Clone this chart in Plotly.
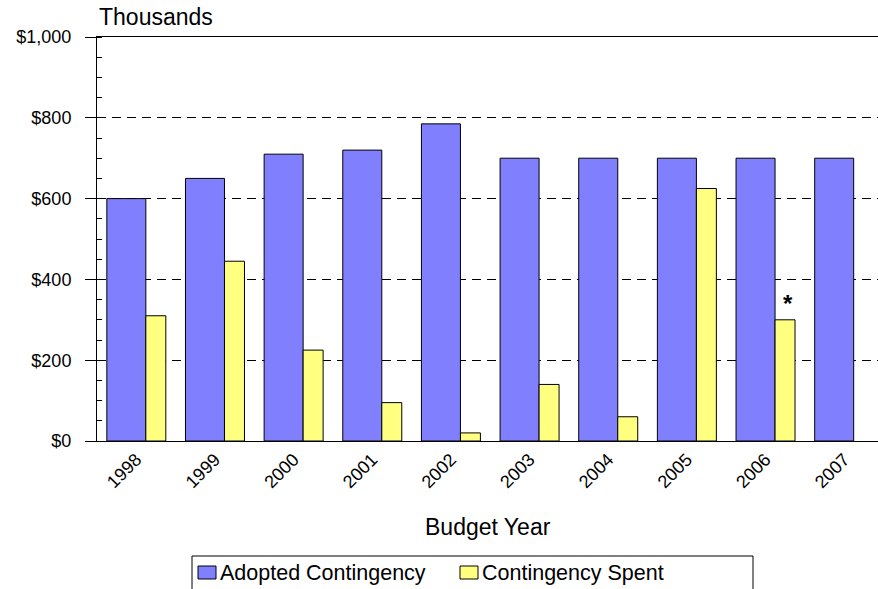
import plotly.graph_objects as go

# Budget years and contingency amounts (thousands of dollars)
years = ["1998", "1999", "2000", "2001", "2002", "2003", "2004", "2005", "2006", "2007"]
adopted = [600, 650, 710, 720, 785, 700, 700, 700, 700, 700]
spent = [310, 445, 225, 95, 20, 140, 60, 625, 300, None]

y_ticks = [0, 200, 400, 600, 800, 1000]
y_labels = ["$0", "$200", "$400", "$600", "$800", "$1,000"]

series_names = ["Adopted Contingency", "Contingency Spent"]

FONT = "Liberation Sans, Arial, sans-serif"
BLUE = "#8080FF"
YELLOW = "#FFFF80"
colors = [BLUE, YELLOW]

# plot area in pixels (for placing items in the bottom margin)
L, R, T, B = 97, 878, 37, 441
W, H = R - L, B - T


def px(x):
    return (x - L) / W


def py(y):
    return (B - y) / H


fig = go.Figure()
fig.add_trace(go.Bar(
    x=years, y=adopted, name=series_names[0],
    marker=dict(color=BLUE, line=dict(color="#000000", width=1)),
    offset=-0.375, width=0.496,
))
fig.add_trace(go.Bar(
    x=years, y=spent, name=series_names[1],
    marker=dict(color=YELLOW, line=dict(color="#000000", width=1)),
    offset=0.121, width=0.254,
))

# asterisk flagging the 2006 spent amount
flag_idx = years.index("2006")
fig.add_annotation(
    xref="x", yref="y", x=flag_idx, y=spent[flag_idx], text="<b>*</b>", showarrow=False,
    xanchor="center", yanchor="bottom", xshift=22, yshift=1,
    font=dict(family=FONT, size=24, color="#000000"),
)

fig.add_annotation(
    xref="paper", yref="paper", x=0, y=py(17), xanchor="left", yanchor="middle",
    text="Thousands", showarrow=False, font=dict(family=FONT, size=23, color="#000000"),
)

fig.add_annotation(
    xref="paper", yref="paper", x=0.5, y=py(527), xanchor="center", yanchor="middle",
    text="Budget Year", showarrow=False, font=dict(family=FONT, size=23, color="#000000"),
)

# legend: frame, colour keys and labels
fig.add_shape(
    type="rect", xref="paper", yref="paper",
    x0=px(192), x1=px(753), y0=py(620), y1=py(556),
    line=dict(color="#000000", width=1), fillcolor="rgba(0,0,0,0)",
)
key_left = [198, 460]
for name, color, kx in zip(series_names, colors, key_left):
    fig.add_shape(
        type="rect", xref="paper", yref="paper",
        x0=px(kx), x1=px(kx + 18), y0=py(579), y1=py(566),
        line=dict(color="#000000", width=1), fillcolor=color,
    )
    fig.add_annotation(
        xref="paper", yref="paper", x=px(kx + 21), y=py(573),
        xanchor="left", yanchor="middle", text=name, showarrow=False,
        borderpad=0, font=dict(family=FONT, size=21.5, color="#000000"),
    )

fig.update_layout(
    width=878, height=589,
    margin=dict(l=L, r=878 - R, t=T, b=589 - B),
    paper_bgcolor="white", plot_bgcolor="white",
    barmode="overlay",
    font=dict(family=FONT, size=18, color="#000000"),
    showlegend=False,
    xaxis=dict(
        type="category", range=[-0.5, 9.43], automargin=False,
        showline=True, linecolor="#000000", linewidth=1, mirror=True,
        showgrid=False, tickangle=-45, ticks="",
        tickfont=dict(family=FONT, size=18),
    ),
    yaxis=dict(
        range=[0, 1000], tickvals=y_ticks, ticktext=y_labels, automargin=False,
        showline=True, linecolor="#000000", linewidth=1,
        ticks="outside", ticklen=11, tickcolor="#000000", ticklabelstandoff=10,
        showgrid=True, gridcolor="#000000", gridwidth=1, griddash="9px,6px",
        zeroline=False,
        minor=dict(dtick=50, ticks="inside", ticklen=5, tickcolor="#000000", showgrid=False),
        tickfont=dict(family=FONT, size=18),
    ),
)

fig.write_html("out.html")
